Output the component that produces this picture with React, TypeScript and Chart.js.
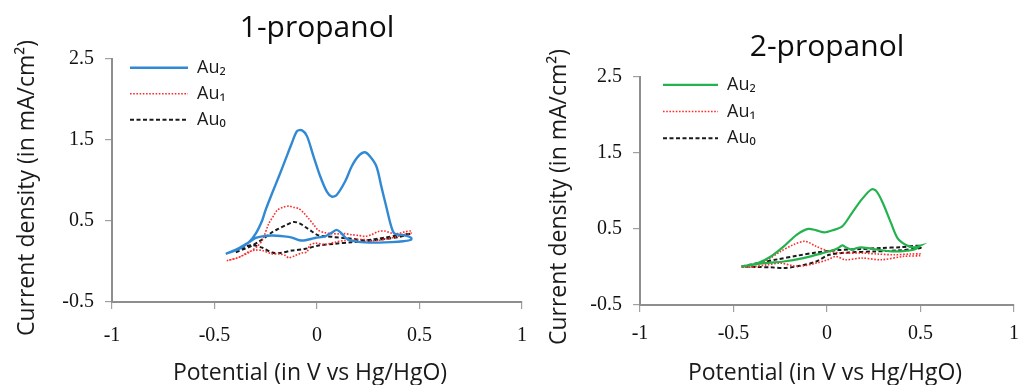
import { useEffect, useRef } from "react";
import { Chart, registerables } from "chart.js";

Chart.register(...registerables);

// Axis ticks shared by both panels
const xTicks = [-1, -0.5, 0, 0.5, 1];
const yTicks = [-0.5, 0.5, 1.5, 2.5];
const seriesNames = ["Au₂", "Au₁", "Au₀"];
const panelTitles = ["1-propanol", "2-propanol"];
const yCaption = "Current density (in mA/cm²)";
const xCaption = "Potential (in V vs Hg/HgO)";

// 1-propanol — full cyclic scans (forward then reverse), potential in V, current in mA/cm²
const p1Au2Potential = [
  -0.445, -0.38, -0.332, -0.299, -0.267, -0.251, -0.219, -0.186, -0.154, -0.122, -0.097, -0.073, -0.049, -0.017,
  0.016, 0.048, 0.072, 0.096, 0.137, 0.169, 0.201, 0.233, 0.258, 0.29, 0.314, 0.338, 0.363, 0.379, 0.427, 0.459,
  0.459, 0.42, 0.363, 0.3, 0.233, 0.18, 0.14, 0.115, 0.095, 0.075, 0.04, -0.01, -0.057, -0.085, -0.122, -0.16,
  -0.219, -0.267, -0.299, -0.332, -0.38, -0.445,
];
const p1Au2Current = [
  0.094, 0.156, 0.238, 0.343, 0.509, 0.633, 0.841, 1.048, 1.256, 1.464, 1.609, 1.617, 1.546, 1.297,
  1.048, 0.861, 0.799, 0.82, 0.986, 1.172, 1.297, 1.347, 1.297, 1.172, 0.923, 0.674, 0.425, 0.343, 0.322, 0.293,
  0.268, 0.25, 0.238, 0.232, 0.235, 0.25, 0.29, 0.36, 0.39, 0.36, 0.31, 0.29, 0.262, 0.262, 0.295, 0.31,
  0.32, 0.31, 0.29, 0.238, 0.165, 0.094,
];
const p1Au1Potential = [
  -0.44, -0.4, -0.36, -0.32, -0.29, -0.267, -0.235, -0.21, -0.194, -0.165, -0.138, -0.11, -0.09, -0.065, -0.041,
  -0.015, 0.007, 0.04, 0.072, 0.105, 0.137, 0.17, 0.201, 0.235, 0.266, 0.3, 0.33, 0.363, 0.395, 0.427, 0.459,
  0.459, 0.42, 0.38, 0.34, 0.3, 0.26, 0.233, 0.19, 0.137, 0.088, 0.04, -0.009, -0.035, -0.049, -0.074, -0.106,
  -0.138, -0.154, -0.186, -0.219, -0.267, -0.3, -0.332, -0.38, -0.44,
];
const p1Au1Current = [
  0.01, 0.035, 0.075, 0.13, 0.19, 0.26, 0.468, 0.57, 0.633, 0.67, 0.683, 0.665, 0.654, 0.6, 0.53,
  0.45, 0.384, 0.355, 0.343, 0.34, 0.343, 0.33, 0.322, 0.31, 0.33, 0.37, 0.375, 0.35, 0.345, 0.365, 0.375,
  0.35, 0.33, 0.3, 0.28, 0.26, 0.255, 0.27, 0.27, 0.26, 0.238, 0.21, 0.226, 0.2, 0.118, 0.105, 0.073,
  0.044, 0.073, 0.095, 0.094, 0.135, 0.14, 0.12, 0.052, 0.01,
];
const p1Au0Potential = [
  -0.396, -0.36, -0.332, -0.29, -0.251, -0.22, -0.186, -0.15, -0.114, -0.085, -0.057, -0.025, 0.007, 0.05, 0.088,
  0.13, 0.169, 0.233, 0.28, 0.33, 0.395, 0.459,
  0.459, 0.395, 0.34, 0.298, 0.233, 0.169, 0.088, 0.007, -0.057, -0.122, -0.186, -0.219, -0.267, -0.316, -0.356,
  -0.396,
];
const p1Au0Current = [
  0.114, 0.15, 0.176, 0.235, 0.3, 0.36, 0.405, 0.45, 0.488, 0.47, 0.425, 0.37, 0.322, 0.31, 0.3,
  0.29, 0.28, 0.26, 0.275, 0.293, 0.322, 0.343,
  0.343, 0.3, 0.28, 0.268, 0.25, 0.238, 0.218, 0.197, 0.156, 0.135, 0.101, 0.11, 0.17, 0.2, 0.176,
  0.114,
];

// 2-propanol — full cyclic scans
const p2Au2Potential = [
  -0.457, -0.37, -0.3, -0.231, -0.161, -0.101, -0.057, -0.014, 0.03, 0.082, 0.134, 0.186, 0.238, 0.264, 0.298,
  0.342, 0.377, 0.42, 0.464, 0.5,
  0.5, 0.464, 0.359, 0.272, 0.186, 0.16, 0.134, 0.1, 0.082, 0.06, 0.038, -0.022, -0.127, -0.231, -0.335, -0.457,
];
const p2Au2Current = [
  0.006, 0.051, 0.138, 0.27, 0.425, 0.5, 0.482, 0.455, 0.482, 0.535, 0.712, 0.888, 1.02, 0.997, 0.844,
  0.58, 0.38, 0.293, 0.257, 0.28,
  0.28, 0.227, 0.204, 0.227, 0.257, 0.25, 0.227, 0.26, 0.284, 0.25, 0.227, 0.183, 0.117, 0.072, 0.051, 0.006,
];
const p2Au1Potential = [
  -0.457, -0.4, -0.335, -0.248, -0.179, -0.118, -0.057, 0.012, 0.099, 0.186, 0.272, 0.359, 0.446, 0.5,
  0.5, 0.412, 0.29, 0.186, 0.099, 0.047, 0.004, -0.057, -0.127, -0.179, -0.248, -0.318, -0.4, -0.457,
];
const p2Au1Current = [
  -0.003, 0.03, 0.072, 0.204, 0.293, 0.337, 0.27, 0.204, 0.183, 0.183, 0.17, 0.16, 0.17, 0.17,
  0.15, 0.14, 0.095, 0.117, 0.095, 0.138, 0.095, 0.051, 0.015, 0.015, 0.051, 0.03, 0.0, -0.003,
];
const p2Au0Potential = [
  -0.457, -0.37, -0.266, -0.161, -0.057, 0.047, 0.186, 0.29, 0.394, 0.5,
  0.5, 0.377, 0.255, 0.116, 0.012, -0.057, -0.144, -0.231, -0.3, -0.37, -0.457,
];
const p2Au0Current = [
  0.006, 0.05, 0.1, 0.148, 0.19, 0.22, 0.236, 0.25, 0.26, 0.28,
  0.25, 0.217, 0.204, 0.19, 0.16, 0.072, 0.015, -0.015, -0.005, 0.0, 0.006,
];

// Line styles per alloy (Au2 colour differs per panel)
const solidBlue = "#3289d3";
const solidGreen = "#24b24f";
const dottedRed = "#ff2a2a";
const dashedBlack = "#1a1a1a";

const pairUp = (xs: number[], ys: number[]) => xs.map((x, i) => ({ x, y: ys[i] }));

// Inset legend drawn at the upper-left of the plot area
const insetLegendPlugin = {
  id: "insetLegend",
  afterDraw(chart: any, _args: any, opts: any) {
    const { ctx, chartArea } = chart;
    ctx.save();
    chart.data.datasets.forEach((ds: any, i: number) => {
      const y = chartArea.top + opts.offsetY + i * opts.rowGap;
      const x0 = chartArea.left + opts.offsetX;
      ctx.beginPath();
      ctx.setLineDash(ds.borderDash || []);
      ctx.lineWidth = ds.borderWidth;
      ctx.strokeStyle = ds.borderColor;
      ctx.moveTo(x0, y);
      ctx.lineTo(x0 + opts.lineLength, y);
      ctx.stroke();
      ctx.setLineDash([]);
      ctx.font = opts.font;
      ctx.fillStyle = opts.color;
      ctx.textAlign = "left";
      ctx.textBaseline = "middle";
      ctx.fillText(ds.label, x0 + opts.textGap, y);
    });
    ctx.restore();
  },
};

// Axis captions placed freely around the plot
const captionsPlugin = {
  id: "captions",
  afterDraw(chart: any, _args: any, o: any) {
    const { ctx } = chart;
    ctx.save();
    ctx.font = o.font;
    ctx.fillStyle = o.color;
    ctx.textAlign = "center";
    ctx.textBaseline = "middle";
    ctx.fillText(o.xText, o.xCapX, o.xCapY);
    ctx.translate(o.yCapX, o.yCapY);
    ctx.rotate(-Math.PI / 2);
    ctx.fillText(o.yText, 0, 0);
    ctx.restore();
  },
};

type SeriesDef = { label: string; v: number[]; j: number[]; color: string; dash: number[]; width: number };
type PanelDef = {
  title: string;
  series: SeriesDef[];
  canvasLeft: number;
  canvasWidth: number;
  plotLeft: number;
  padRight: number;
  xAxisHeight: number;
  titleTop: number;
  titleBottom: number;
  xTickPad: number;
  legend: { offsetX: number; offsetY: number; rowGap: number; lineLength: number; textGap: number };
  caption: { xCapX: number; xCapY: number; yCapX: number; yCapY: number };
};

const panels: PanelDef[] = [
  {
    title: panelTitles[0],
    series: [
      { label: seriesNames[0], v: p1Au2Potential, j: p1Au2Current, color: solidBlue, dash: [], width: 2.4 },
      { label: seriesNames[1], v: p1Au1Potential, j: p1Au1Current, color: dottedRed, dash: [1.6, 1.6], width: 1.6 },
      { label: seriesNames[2], v: p1Au0Potential, j: p1Au0Current, color: dashedBlack, dash: [4, 2.5], width: 2 },
    ],
    canvasLeft: 0,
    canvasWidth: 560,
    plotLeft: 112,
    padRight: 38,
    xAxisHeight: 83,
    titleTop: 10.4,
    titleBottom: 12.4,
    xTickPad: 15,
    legend: { offsetX: 18, offsetY: 9, rowGap: 26, lineLength: 58, textGap: 67 },
    caption: { xCapX: 310, xCapY: 373, yCapX: 27, yCapY: 188 },
  },
  {
    title: panelTitles[1],
    series: [
      { label: seriesNames[0], v: p2Au2Potential, j: p2Au2Current, color: solidGreen, dash: [], width: 2.2 },
      { label: seriesNames[1], v: p2Au1Potential, j: p2Au1Current, color: dottedRed, dash: [1.6, 1.6], width: 1.6 },
      { label: seriesNames[2], v: p2Au0Potential, j: p2Au0Current, color: dashedBlack, dash: [4, 2.5], width: 2 },
    ],
    canvasLeft: 520,
    canvasWidth: 509,
    plotLeft: 120,
    padRight: 7,
    xAxisHeight: 80,
    titleTop: 29.4,
    titleBottom: 11.4,
    xTickPad: 10,
    legend: { offsetX: 23, offsetY: 8, rowGap: 26.7, lineLength: 55, textGap: 64 },
    caption: { xCapX: 305, xCapY: 373, yCapX: 39.5, yCapY: 197 },
  },
];

const tickFont = { family: "Liberation Serif", size: 20 };
const axisGrey = "#8e8e8e";

function buildConfig(p: PanelDef): any {
  return {
    type: "scatter",
    data: {
      datasets: p.series.map((s) => ({
        label: s.label,
        data: pairUp(s.v, s.j),
        showLine: true,
        borderColor: s.color,
        backgroundColor: s.color,
        borderWidth: s.width,
        borderDash: s.dash,
        pointRadius: 0,
        tension: 0.3,
        fill: false,
      })),
    },
    options: {
      responsive: false,
      animation: false,
      devicePixelRatio: 1,
      events: [],
      layout: { padding: { left: 0, right: p.padRight, top: 0, bottom: 0 } },
      plugins: {
        legend: { display: false },
        tooltip: { enabled: false },
        title: {
          display: true,
          text: p.title,
          fullSize: false,
          color: "#0d0d0d",
          font: { family: "Open Sans", size: 30, weight: "normal", lineHeight: 1.2 },
          padding: { top: p.titleTop, bottom: p.titleBottom },
        },
        insetLegend: {
          ...p.legend,
          font: "18px 'Open Sans'",
          color: "#1a1a1a",
        },
        captions: {
          ...p.caption,
          xText: xCaption,
          yText: yCaption,
          font: "23px 'Open Sans'",
          color: "#1a1a1a",
        },
      },
      scales: {
        x: {
          type: "linear",
          min: xTicks[0],
          max: xTicks[xTicks.length - 1],
          afterBuildTicks: (s: any) => {
            s.ticks = xTicks.map((value) => ({ value }));
          },
          afterFit: (s: any) => {
            s.height = p.xAxisHeight;
          },
          ticks: {
            autoSkip: false,
            maxRotation: 0,
            padding: p.xTickPad,
            color: "#111111",
            font: tickFont,
            callback: (v: any) => String(v),
          },
          grid: {
            display: true,
            drawOnChartArea: false,
            drawTicks: true,
            tickLength: 7,
            tickColor: "#a0a0a0",
            lineWidth: 1.2,
          },
          border: { display: true, color: axisGrey, width: 2 },
          title: { display: false },
        },
        y: {
          type: "linear",
          min: yTicks[0],
          max: yTicks[yTicks.length - 1],
          afterBuildTicks: (s: any) => {
            s.ticks = yTicks.map((value) => ({ value }));
          },
          afterFit: (s: any) => {
            s.width = p.plotLeft;
          },
          ticks: {
            autoSkip: false,
            padding: 11,
            color: "#111111",
            font: tickFont,
            callback: (v: any) => String(v),
          },
          grid: {
            display: true,
            drawOnChartArea: false,
            drawTicks: true,
            tickLength: 7,
            tickColor: "#a0a0a0",
            lineWidth: 1.2,
          },
          border: { display: true, color: axisGrey, width: 2 },
          title: { display: false },
        },
      },
    },
    plugins: [insetLegendPlugin, captionsPlugin],
  };
}

function PanelChart({ panel }: { panel: PanelDef }) {
  const ref = useRef<HTMLCanvasElement | null>(null);
  useEffect(() => {
    if (!ref.current) return;
    const chart = new Chart(ref.current, buildConfig(panel));
    return () => chart.destroy();
  }, [panel]);
  return (
    <canvas
      ref={ref}
      width={panel.canvasWidth}
      height={385}
      style={{
        position: "absolute",
        left: panel.canvasLeft,
        top: 0,
        width: panel.canvasWidth,
        height: 385,
      }}
    />
  );
}

export default function App() {
  return (
    <div
      style={{
        position: "fixed",
        left: 0,
        top: 0,
        width: 1029,
        height: 385,
        background: "#ffffff",
        overflow: "hidden",
      }}
    >
      {panels.map((p) => (
        <PanelChart key={p.title} panel={p} />
      ))}
    </div>
  );
}
